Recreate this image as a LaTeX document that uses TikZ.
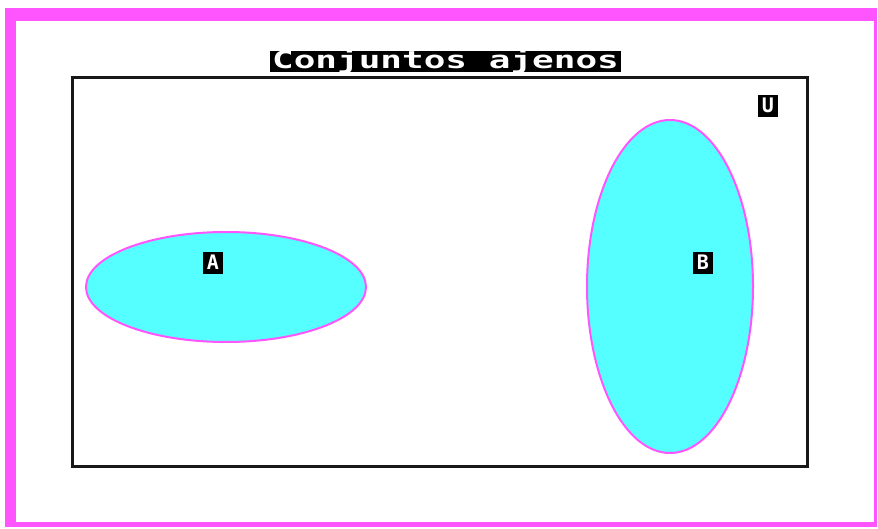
\documentclass[tikz,border=0pt]{standalone}
\usepackage{fontspec}
\usepackage{tikz}
\usetikzlibrary{
  positioning,
  shapes.geometric
}
\newfontfamily\pixelfont[FakeStretch=1.5]{DejaVu Sans Mono}
\newfontfamily\labelfont{DejaVu Sans Mono}
\definecolor{FrameMagenta}{RGB}{255,85,255}
\definecolor{SetCyan}{RGB}{85,255,255}
\definecolor{BoxBlack}{RGB}{24,24,24}
\tikzset{
  universe/.style={draw=BoxBlack,line width=3pt,minimum width=735pt,minimum height=388pt,inner sep=0pt},
  setshape/.style={ellipse,draw=FrameMagenta,line width=2pt,fill=SetCyan,inner sep=0pt},
  titlebox/.style={fill=black,text=white,inner xsep=2pt,inner ysep=1pt,text height=16pt,text depth=3pt,font=\pixelfont\bfseries\fontsize{24}{24}\selectfont},
  setlabel/.style={fill=black,text=white,inner sep=1pt,minimum width=20pt,minimum height=22pt,text height=15pt,text depth=1pt,font=\labelfont\bfseries\fontsize{20}{20}\selectfont}
}

\begin{document}
\begin{tikzpicture}[x=1pt,y=-1pt]
\useasboundingbox (0,0) rectangle (878,529);
\fill[white] (0,0) rectangle (878,529);
\fill[FrameMagenta] (5,8) rectangle (877,527);
\fill[white] (16,21) rectangle (874,522);

\node[universe] (uni) at (439.5,272) {};
\node[titlebox, above=4pt of uni.north, xshift=6pt] (title) {Conjuntos ajenos};
\node[setlabel] (labu) at (768,106) {U};

\node[setshape, minimum width=280pt, minimum height=110pt] (seta) at (226,287) {};
\node[setshape, minimum width=166pt, minimum height=333pt] (setb) at (670,286.5) {};
\node[setlabel] (laba) at (213,263) {A};
\node[setlabel] (labb) at (703,263) {B};
\end{tikzpicture}
\end{document}
